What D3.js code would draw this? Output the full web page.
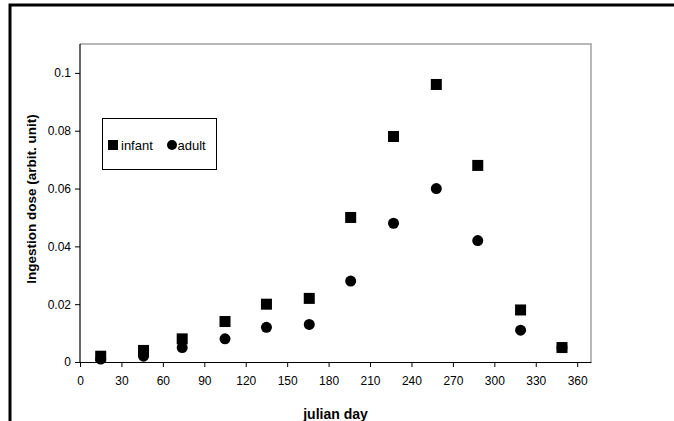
<!DOCTYPE html>
<html><head><meta charset="utf-8">
<script src="https://cdn.jsdelivr.net/npm/d3@7"></script>
<style>
html,body{margin:0;padding:0;background:#fff;overflow:hidden;}
svg{display:block;font-family:"Liberation Sans",Arial,sans-serif;}
</style></head>
<body><svg id="c" width="674" height="421"></svg>
<script>
const days = [15, 46, 74, 105, 135, 166, 196, 227, 258, 288, 319, 349];
const infant = [0.002, 0.004, 0.008, 0.014, 0.020, 0.022, 0.050, 0.078, 0.096, 0.068, 0.018, 0.005];
const adult = [0.001, 0.002, 0.005, 0.008, 0.012, 0.013, 0.028, 0.048, 0.060, 0.042, 0.011, 0.005];
const xTicks = [0, 30, 60, 90, 120, 150, 180, 210, 240, 270, 300, 330, 360];
const yTicks = [0, 0.02, 0.04, 0.06, 0.08, 0.1];
const seriesNames = ["infant", "adult"];

const svg = d3.select("#c");
const L = 80, R = 591, T = 44, B = 362;
const x = d3.scaleLinear().domain([0, 370]).range([L, R]);
const y = d3.scaleLinear().domain([0, 0.11]).range([B, T]);

// outer frame: only top and left edges fall inside the picture
svg.append("path").attr("d", "M10,430V5H700").attr("fill", "none")
  .attr("stroke", "#000").attr("stroke-width", 3);

// plot border (top/right gray)
svg.append("path").attr("d", `M${L},${T}H${R}V${B}`).attr("fill", "none")
  .attr("stroke", "#a0a0a0").attr("stroke-width", 1.5);

const fmtY = d => d === 0 ? "0" : d3.format("~g")(d);
const gx = svg.append("g").attr("transform", `translate(0,${B})`)
  .call(d3.axisBottom(x).tickValues(xTicks).tickSize(5).tickPadding(9).tickSizeOuter(0));
const gy = svg.append("g").attr("transform", `translate(${L},0)`)
  .call(d3.axisLeft(y).tickValues(yTicks).tickFormat(fmtY).tickSize(5).tickPadding(4).tickSizeOuter(0));
[gx, gy].forEach(g => {
  g.selectAll("text").attr("font-size", 12).attr("fill", "#000").attr("font-family", "Liberation Sans, Arial, sans-serif");
  g.selectAll("line").attr("stroke", "#000");
  g.select(".domain").attr("stroke", "#000").attr("stroke-width", 1.2);
});
gy.select(".domain").attr("d", `M0,${B}V${T}`);

// axis titles
svg.append("text").attr("x", (L + R) / 2).attr("y", 419).attr("text-anchor", "middle")
  .attr("font-weight", "bold").attr("font-size", 14).text("julian day");
svg.append("text").attr("transform", `translate(36,${(T + B) / 2 - 4}) rotate(-90)`)
  .attr("text-anchor", "middle").attr("font-weight", "bold").attr("font-size", 13.5)
  .text("Ingestion dose (arbit. unit)");

// markers
const ms = 11;
svg.append("g").selectAll("rect").data(days.map((d, i) => [d, infant[i]])).join("rect")
  .attr("x", d => x(d[0]) - ms / 2).attr("y", d => y(d[1]) - ms / 2)
  .attr("width", ms).attr("height", ms).attr("fill", "#000");
svg.append("g").selectAll("circle").data(days.map((d, i) => [d, adult[i]])).join("circle")
  .attr("cx", d => x(d[0])).attr("cy", d => y(d[1])).attr("r", ms / 2).attr("fill", "#000");

// legend
const lg = svg.append("g");
lg.append("rect").attr("x", 102.5).attr("y", 118.5).attr("width", 114).attr("height", 51)
  .attr("fill", "#fff").attr("stroke", "#000").attr("stroke-width", 1);
lg.append("rect").attr("x", 108).attr("y", 140).attr("width", 10).attr("height", 10).attr("fill", "#000");
lg.append("text").attr("x", 121).attr("y", 149.5).attr("font-size", 13).text(seriesNames[0]);
lg.append("circle").attr("cx", 172).attr("cy", 145).attr("r", 5).attr("fill", "#000");
lg.append("text").attr("x", 177.5).attr("y", 149.5).attr("font-size", 13).text(seriesNames[1]);
</script></body></html>
